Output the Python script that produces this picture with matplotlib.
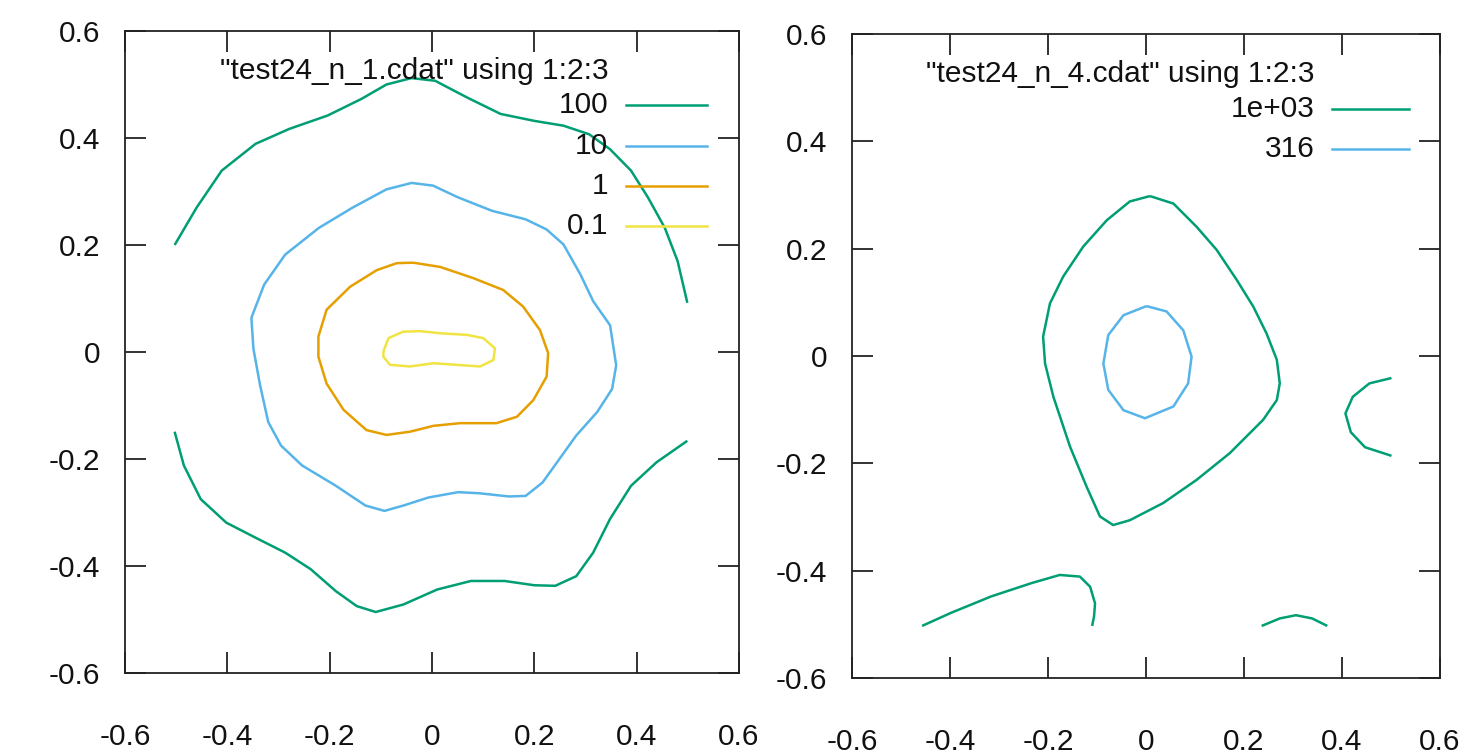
import matplotlib.pyplot as plt
from matplotlib.patches import Rectangle

plt.rcParams['font.family'] = ['Liberation Sans', 'DejaVu Sans']

# contour colours (gnuplot defaults)
GREEN = '#009e73'
BLUE = '#56b4e9'
ORANGE = '#e69f00'
YELLOW = '#f0e442'

ticks = [-0.6, -0.4, -0.2, 0, 0.2, 0.4, 0.6]
tick_labels = ['-0.6', '-0.4', '-0.2', '0', '0.2', '0.4', '0.6']

# ---------------- test24_n_1.cdat ----------------
n1_title = '"test24_n_1.cdat" using 1:2:3'
n1_levels = ['100', '10', '1', '0.1']

n1_c100_top_x = [-0.503, -0.460, -0.411, -0.345, -0.279, -0.204, -0.138, -0.089, -0.040, 0.006,
                 0.068, 0.134, 0.200, 0.257, 0.307, 0.348, 0.389, 0.422, 0.455, 0.480, 0.499]
n1_c100_top_y = [0.200, 0.270, 0.339, 0.389, 0.417, 0.442, 0.473, 0.500, 0.512, 0.507,
                 0.476, 0.445, 0.432, 0.423, 0.407, 0.379, 0.339, 0.289, 0.232, 0.170, 0.092]

n1_c100_bot_x = [-0.503, -0.485, -0.452, -0.402, -0.345, -0.287, -0.237, -0.188, -0.147, -0.110, -0.056,
                 0.010, 0.076, 0.142, 0.200, 0.241, 0.282, 0.315, 0.348, 0.389, 0.439, 0.499]
n1_c100_bot_y = [-0.149, -0.212, -0.275, -0.319, -0.347, -0.375, -0.406, -0.447, -0.475, -0.486, -0.472,
                 -0.444, -0.428, -0.428, -0.436, -0.437, -0.419, -0.375, -0.312, -0.250, -0.206, -0.166]

n1_c10_x = [-0.353, -0.328, -0.287, -0.221, -0.155, -0.089, -0.040, 0.002, 0.051, 0.117, 0.183, 0.224,
            0.257, 0.290, 0.315, 0.348, 0.360, 0.352, 0.323, 0.282, 0.249, 0.216, 0.183, 0.150, 0.092,
            0.051, -0.007, -0.056, -0.093, -0.130, -0.188, -0.254, -0.295, -0.320, -0.336, -0.349, -0.353]
n1_c10_y = [0.064, 0.126, 0.182, 0.232, 0.270, 0.304, 0.316, 0.311, 0.289, 0.264, 0.248, 0.229,
            0.201, 0.145, 0.095, 0.050, -0.025, -0.069, -0.112, -0.156, -0.200, -0.244, -0.269, -0.270, -0.264,
            -0.262, -0.272, -0.287, -0.297, -0.287, -0.250, -0.212, -0.175, -0.131, -0.062, 0.006, 0.064]

n1_c1_x = [-0.037, 0.016, 0.081, 0.139, 0.178, 0.211, 0.227, 0.224, 0.198, 0.166, 0.126, 0.055, 0.003,
           -0.043, -0.089, -0.128, -0.173, -0.206, -0.222, -0.222, -0.206, -0.160, -0.108, -0.069, -0.037]
n1_c1_y = [0.167, 0.159, 0.138, 0.116, 0.085, 0.041, -0.002, -0.046, -0.090, -0.121, -0.133, -0.133, -0.138,
           -0.149, -0.155, -0.146, -0.108, -0.059, -0.009, 0.029, 0.079, 0.122, 0.153, 0.166, 0.167]

n1_c01_x = [-0.095, -0.085, -0.056, -0.023, 0.016, 0.068, 0.100, 0.123, 0.120, 0.094, 0.048, 0.003,
            -0.043, -0.082, -0.095, -0.095]
n1_c01_y = [0.001, 0.026, 0.038, 0.039, 0.035, 0.032, 0.026, 0.007, -0.015, -0.027, -0.024, -0.021,
            -0.027, -0.024, -0.009, 0.001]

# ---------------- test24_n_4.cdat ----------------
n4_title = '"test24_n_4.cdat" using 1:2:3'
n4_levels = ['1e+03', '316']

n4_c1000_loop_x = [0.008, 0.056, 0.103, 0.144, 0.185, 0.219, 0.246, 0.267, 0.273, 0.267, 0.239, 0.171,
                   0.103, 0.035, -0.033, -0.067, -0.094, -0.121, -0.155, -0.189, -0.206, -0.210, -0.196,
                   -0.169, -0.128, -0.080, -0.033, 0.008]
n4_c1000_loop_y = [0.298, 0.284, 0.241, 0.198, 0.142, 0.092, 0.042, -0.007, -0.051, -0.082, -0.119, -0.181,
                   -0.231, -0.274, -0.306, -0.315, -0.299, -0.244, -0.169, -0.076, -0.014, 0.036, 0.098,
                   0.148, 0.204, 0.253, 0.288, 0.298]

n4_c1000_right_x = [0.501, 0.456, 0.422, 0.407, 0.418, 0.447, 0.501]
n4_c1000_right_y = [-0.041, -0.051, -0.076, -0.107, -0.142, -0.170, -0.186]

n4_c1000_lowleft_x = [-0.457, -0.399, -0.316, -0.233, -0.176, -0.135, -0.114, -0.104, -0.106, -0.110]
n4_c1000_lowleft_y = [-0.503, -0.479, -0.448, -0.423, -0.408, -0.411, -0.430, -0.461, -0.485, -0.503]

n4_c1000_lowright_x = [0.236, 0.273, 0.306, 0.339, 0.370]
n4_c1000_lowright_y = [-0.503, -0.489, -0.483, -0.489, -0.503]

n4_c316_x = [0.001, 0.042, 0.076, 0.093, 0.086, 0.056, -0.002, -0.046, -0.077, -0.087, -0.077, -0.046, 0.001]
n4_c316_y = [0.093, 0.083, 0.048, -0.001, -0.051, -0.094, -0.116, -0.101, -0.063, -0.014, 0.039, 0.076, 0.093]

fig = plt.figure(figsize=(14.65, 7.54), dpi=100)
fig.patch.set_facecolor('white')

ax1 = fig.add_axes([125 / 1465, 81 / 754, 614 / 1465, 642 / 754])
ax2 = fig.add_axes([852 / 1465, 76 / 754, 588 / 1465, 644 / 754])
ax2.set_zorder(2)

# the right panel was a separate image: it hides the end of the left x labels
fig.patches.append(Rectangle((757 / 1465, 0), 1, 1, transform=fig.transFigure,
                             facecolor='white', edgecolor='none', zorder=1))

lw = 1.8
kw = dict(lw=lw, solid_joinstyle='round', solid_capstyle='butt')
ax1.plot(n1_c100_top_x, n1_c100_top_y, color=GREEN, **kw)
ax1.plot(n1_c100_bot_x, n1_c100_bot_y, color=GREEN, **kw)
ax1.plot(n1_c10_x, n1_c10_y, color=BLUE, **kw)
ax1.plot(n1_c1_x, n1_c1_y, color=ORANGE, **kw)
ax1.plot(n1_c01_x, n1_c01_y, color=YELLOW, **kw)

ax2.plot(n4_c1000_loop_x, n4_c1000_loop_y, color=GREEN, **kw)
ax2.plot(n4_c1000_right_x, n4_c1000_right_y, color=GREEN, **kw)
ax2.plot(n4_c1000_lowleft_x, n4_c1000_lowleft_y, color=GREEN, **kw)
ax2.plot(n4_c1000_lowright_x, n4_c1000_lowright_y, color=GREEN, **kw)
ax2.plot(n4_c316_x, n4_c316_y, color=BLUE, **kw)


def add_key(ax, title, labels, colors):
    # gnuplot style key: right-aligned text, line sample to the right
    ax.text(0.787, 0.938, title, transform=ax.transAxes, ha='right', va='center',
            fontsize=21.5, color='#111111', zorder=5)
    for i, (lab, col) in enumerate(zip(labels, colors)):
        yy = 0.884 - i * 0.0625
        ax.text(0.787, yy, lab, transform=ax.transAxes, ha='right', va='center',
                fontsize=21.5, color='#111111', zorder=5)
        ax.plot([0.816, 0.948], [yy, yy], transform=ax.transAxes, color=col, lw=lw)


add_key(ax1, n1_title, n1_levels, [GREEN, BLUE, ORANGE, YELLOW])
add_key(ax2, n4_title, n4_levels, [GREEN, BLUE])

for ax in (ax1, ax2):
    ax.set_xlim(-0.6, 0.6)
    ax.set_ylim(-0.6, 0.6)
    ax.set_xticks(ticks)
    ax.set_xticklabels(tick_labels)
    ax.set_yticks(ticks)
    ax.set_yticklabels(tick_labels)
    ax.tick_params(direction='in', length=15, width=1.3, color='#222222',
                   top=True, right=True, labelsize=21.5, labelcolor='#111111')
    ax.tick_params(axis='x', pad=36)
    ax.tick_params(axis='y', pad=18)
    for sp in ax.spines.values():
        sp.set_linewidth(1.3)
        sp.set_color('#222222')

fig.savefig('out.png', dpi=100, facecolor='white')
